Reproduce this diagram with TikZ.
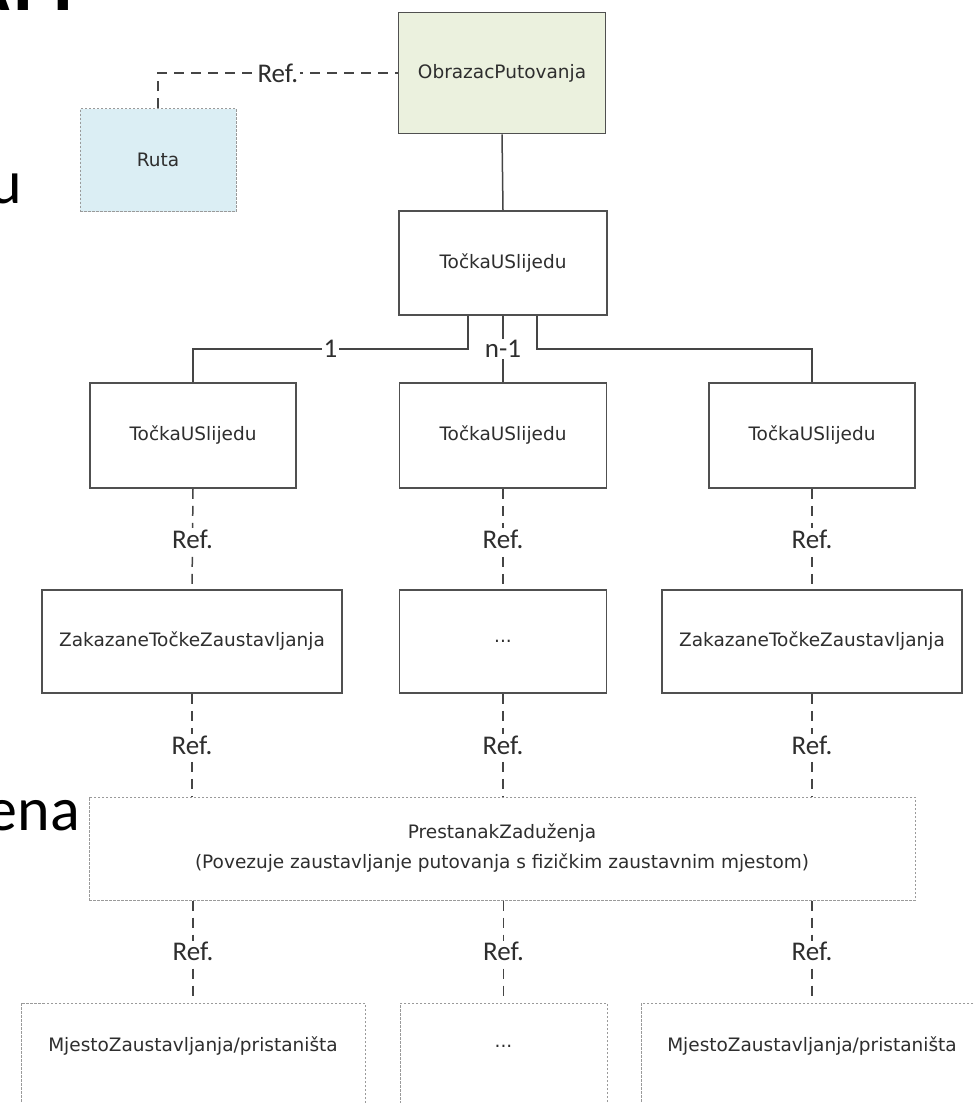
\documentclass[tikz,border=0pt]{standalone}
\usepackage{fontspec}
\setmainfont{DejaVu Sans}
\newfontfamily\carlito{Carlito}
\definecolor{boxline}{HTML}{505050}
\definecolor{linkcol}{HTML}{454545}
\definecolor{dotline}{HTML}{9A9A9A}
\definecolor{labeltext}{HTML}{2E2E2E}
\definecolor{obrfill}{HTML}{EBF1DE}
\definecolor{rutafill}{HTML}{DBEEF4}
\begin{document}
\begin{tikzpicture}[x=1pt,y=-1pt,
  boxtext/.style={font=\fontsize{18.5}{30}\selectfont, text=labeltext, align=center},
  box/.style={boxtext, draw=boxline, line width=1.6pt, fill=white, inner sep=0pt},
  dotbox/.style={boxtext, draw=dotline, line width=1pt, dash pattern=on 2.5pt off 1.5pt, fill=white, inner sep=0pt},
  link/.style={draw=linkcol, line width=1.5pt},
  reflink/.style={draw=linkcol, line width=1.5pt, dash pattern=on 10pt off 7pt},
  reftag/.style={fill=white, inner sep=1.5pt, font=\carlito\fontsize{27}{30}\selectfont, text=labeltext},
  bigtext/.style={font=\carlito\fontsize{62}{70}\selectfont, text=black, inner sep=0pt},
]
\useasboundingbox (0,0) rectangle (974,1103);
\clip (0,0) rectangle (974,1103);

% slide text running behind the left edge
\node[bigtext, font=\carlito\bfseries\fontsize{80}{90}\selectfont, anchor=base west] (title) at (-39,10) {ATT};
\node[bigtext, anchor=base east] (wordu) at (22,203) {u};
\node[bigtext, anchor=base east] (wordena) at (80,830) {ena};

% top level
\node[box, fill=obrfill, minimum width=207, minimum height=121] (obr) at (502,73) {ObrazacPutovanja};
\node[dotbox, fill=rutafill, minimum width=156, minimum height=103] (ruta) at (158,160) {Ruta};
\node[box, minimum width=208, minimum height=104] (t0) at (503,263) {TočkaUSlijedu};

% points in sequence
\node[box, minimum width=206, minimum height=105] (t1) at (193,435.5) {TočkaUSlijedu};
\node[box, minimum width=207, minimum height=105] (t2) at (503,435.5) {TočkaUSlijedu};
\node[box, minimum width=206, minimum height=105] (t3) at (812,435.5) {TočkaUSlijedu};

% scheduled stop points
\node[box, minimum width=300, minimum height=103] (z1) at (192,641.5) {ZakazaneTočkeZaustavljanja};
\node[box, minimum width=207, minimum height=103] (z2) at (503,641.5) {...};
\node[box, minimum width=300, minimum height=103] (z3) at (812,641.5) {ZakazaneTočkeZaustavljanja};

% stop assignment
\node[dotbox, minimum width=826, minimum height=103] (p) at (502,848.5)
  {PrestanakZaduženja\\(Povezuje zaustavljanje putovanja s fizičkim zaustavnim mjestom)};

% stop places (run past the lower edge)
\node[dotbox, minimum width=344, minimum height=140] (m1) at (193,1073) {};
\node[dotbox, minimum width=207, minimum height=140] (m2) at (503.5,1073) {};
\node[dotbox, minimum width=342, minimum height=140] (m3) at (812,1073) {};
\node[boxtext, anchor=center] (m1t) at ([yshift=-44pt]m1.north) {MjestoZaustavljanja/pristaništa};
\node[boxtext, anchor=center] (m2t) at ([yshift=-44pt]m2.north) {...};
\node[boxtext, anchor=center] (m3t) at ([yshift=-44pt]m3.north) {MjestoZaustavljanja/pristaništa};

% connectors
\draw[reflink] (ruta.north) |- node[reftag, pos=0.75] {Ref.} (obr.west);
\draw[link] (obr.south) -- (t0.north);
\draw[link] ([xshift=-35pt]t0.south) -- ++(0,33) -| node[reftag, pos=0.25] {1} (t1.north);
\draw[link] (t0.south) -- node[reftag] {n-1} (t2.north);
\draw[link] ([xshift=34pt]t0.south) -- ++(0,33) -| (t3.north);

\foreach \c in {1,2,3} {
  \draw[reflink] (t\c.south) -- node[reftag] {Ref.} (z\c.north);
  \draw[reflink] (z\c.south) -- node[reftag] {Ref.} (z\c.south |- p.north);
  \draw[reflink] (m\c.north |- p.south) -- node[reftag] {Ref.} (m\c.north);
}
\end{tikzpicture}
\end{document}
